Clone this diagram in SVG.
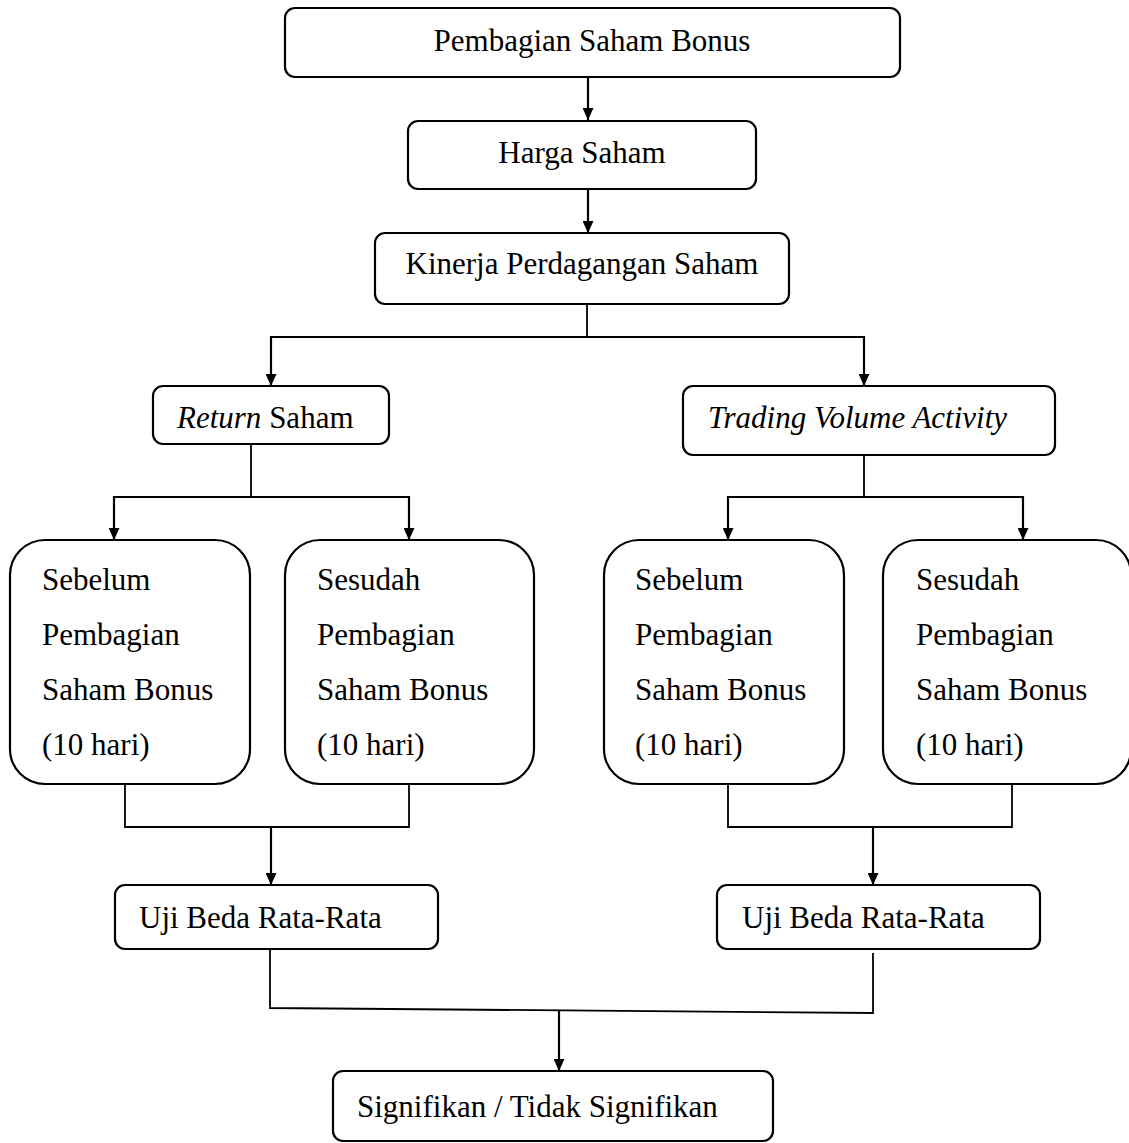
<svg xmlns="http://www.w3.org/2000/svg" width="1129" height="1143" viewBox="0 0 1129 1143">
<style>
.box{fill:#fff;stroke:#000;stroke-width:2.2}
.t{font-family:"Liberation Serif","Times New Roman",serif;font-size:31px;fill:#000}
.c{text-anchor:middle}
.i{font-style:italic}
.ln{fill:none;stroke:#000;stroke-width:1.8}
.ar{fill:none;stroke:#000;stroke-width:2.2;marker-end:url(#ah)}
</style>
<defs>
<marker id="ah" markerWidth="12" markerHeight="11" refX="12" refY="5.5" orient="auto" markerUnits="userSpaceOnUse" viewBox="0 0 12 11"><path d="M0,0 L12,5.5 L0,11 z" fill="#000"/></marker>
</defs>
<rect width="1129" height="1143" fill="#fff"/>
<g id="connectors">
<line class="ar" x1="588" y1="77" x2="588" y2="120"/>
<line class="ar" x1="588" y1="189" x2="588" y2="233"/>
<polyline class="ln" points="587,304 587,337"/>
<polyline class="ar" points="587,337 271,337 271,386"/>
<polyline class="ar" points="587,337 864,337 864,386"/>
<polyline class="ln" points="251,444 251,497"/>
<polyline class="ar" points="251,497 114,497 114,540"/>
<polyline class="ar" points="251,497 409,497 409,540"/>
<polyline class="ln" points="864,455 864,497"/>
<polyline class="ar" points="864,497 728,497 728,540"/>
<polyline class="ar" points="864,497 1023,497 1023,540"/>
<polyline class="ln" points="125,784 125,827 409,827 409,784"/>
<line class="ar" x1="271" y1="827" x2="271" y2="885"/>
<polyline class="ln" points="728,784 728,827 1012,827 1012,784"/>
<line class="ar" x1="873" y1="827" x2="873" y2="885"/>
<polyline class="ln" points="270,949 270,1008 873,1013 873,953"/>
<line class="ar" x1="559" y1="1010" x2="559" y2="1071"/>
</g>
<g id="n1"><rect class="box" x="285" y="8" width="615" height="69" rx="10"/><text class="t c" x="592" y="51">Pembagian Saham Bonus</text></g>
<g id="n2"><rect class="box" x="408" y="121" width="348" height="68" rx="10"/><text class="t c" x="582" y="163">Harga Saham</text></g>
<g id="n3"><rect class="box" x="375" y="233" width="414" height="71" rx="10"/><text class="t c" x="582" y="274">Kinerja Perdagangan Saham</text></g>
<g id="n4"><rect class="box" x="153" y="386" width="236" height="58" rx="10"/><text class="t" x="177" y="428"><tspan class="i">Return</tspan> Saham</text></g>
<g id="n5"><rect class="box" x="683" y="386" width="372" height="69" rx="10"/><text class="t i" x="708" y="428">Trading Volume Activity</text></g>
<g id="n6"><rect class="box" x="10" y="540" width="240" height="244" rx="35"/>
<text class="t" x="42" y="590">Sebelum</text><text class="t" x="42" y="645">Pembagian</text><text class="t" x="42" y="700">Saham Bonus</text><text class="t" x="42" y="755">(10 hari)</text></g>
<g id="n7"><rect class="box" x="285" y="540" width="249" height="244" rx="35"/>
<text class="t" x="317" y="590">Sesudah</text><text class="t" x="317" y="645">Pembagian</text><text class="t" x="317" y="700">Saham Bonus</text><text class="t" x="317" y="755">(10 hari)</text></g>
<g id="n8"><rect class="box" x="604" y="540" width="240" height="244" rx="35"/>
<text class="t" x="635" y="590">Sebelum</text><text class="t" x="635" y="645">Pembagian</text><text class="t" x="635" y="700">Saham Bonus</text><text class="t" x="635" y="755">(10 hari)</text></g>
<g id="n9"><rect class="box" x="883" y="540" width="248" height="244" rx="35"/>
<text class="t" x="916" y="590">Sesudah</text><text class="t" x="916" y="645">Pembagian</text><text class="t" x="916" y="700">Saham Bonus</text><text class="t" x="916" y="755">(10 hari)</text></g>
<g id="n10"><rect class="box" x="115" y="885" width="323" height="64" rx="10"/><text class="t" x="139" y="928">Uji Beda Rata-Rata</text></g>
<g id="n11"><rect class="box" x="717" y="885" width="323" height="64" rx="10"/><text class="t" x="742" y="928">Uji Beda Rata-Rata</text></g>
<g id="n12"><rect class="box" x="333" y="1071" width="440" height="70" rx="10"/><text class="t" x="357" y="1117">Signifikan / Tidak Signifikan</text></g>
</svg>
